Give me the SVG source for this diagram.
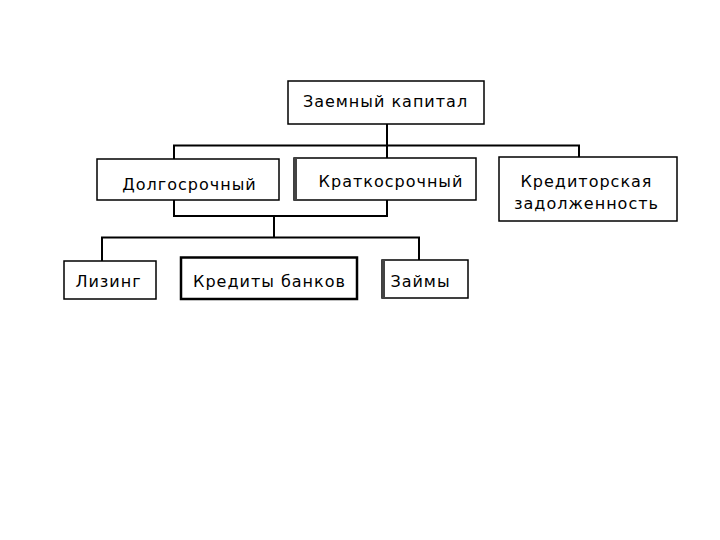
<svg xmlns="http://www.w3.org/2000/svg" width="720" height="540" viewBox="0 0 720 540">
<style>
.box{fill:#fff;stroke:#000;stroke-width:1.5}
.thick{stroke-width:2.5}
.edge{fill:none;stroke:#444;stroke-width:3}
.t{font-family:"DejaVu Sans","Liberation Sans",sans-serif;font-size:16px;letter-spacing:1px;fill:#000;text-anchor:middle}
.c{fill:none;stroke:#000;stroke-width:2}
</style>
<rect width="720" height="540" fill="#fff"/>
<g id="connectors">
<path class="c" d="M387 124V158M174 159V145.5H579V157"/>
<path class="c" d="M174 200V216H387V200M274 216V237.5M102 261V237.5H419V260"/>
</g>
<g id="n-zaemny"><rect class="box" x="288" y="81" width="196" height="43"/><text class="t" x="385.5" y="107">Заемный капитал</text></g>
<g id="n-dolgo"><rect class="box" x="97" y="159" width="182" height="41"/><text class="t" x="189.5" y="190">Долгосрочный</text></g>
<g id="n-kratko"><rect class="box" x="294" y="158" width="182" height="42"/><path class="edge" d="M295.5 158V200"/><text class="t" x="391" y="187">Краткосрочный</text></g>
<g id="n-kredit"><rect class="box" x="499" y="157" width="178" height="64"/><text class="t" x="586.5" y="187">Кредиторская</text><text class="t" x="586.5" y="209">задолженность</text></g>
<g id="n-lizing"><rect class="box" x="64" y="261" width="92" height="38"/><text class="t" x="108.5" y="287">Лизинг</text></g>
<g id="n-banki"><rect class="box thick" x="181" y="257.5" width="176" height="41.5"/><text class="t" x="269.5" y="287">Кредиты банков</text></g>
<g id="n-zaimy"><rect class="box" x="382" y="260" width="86" height="38"/><path class="edge" d="M383.5 260V298"/><text class="t" x="420.5" y="287">Займы</text></g>
</svg>
